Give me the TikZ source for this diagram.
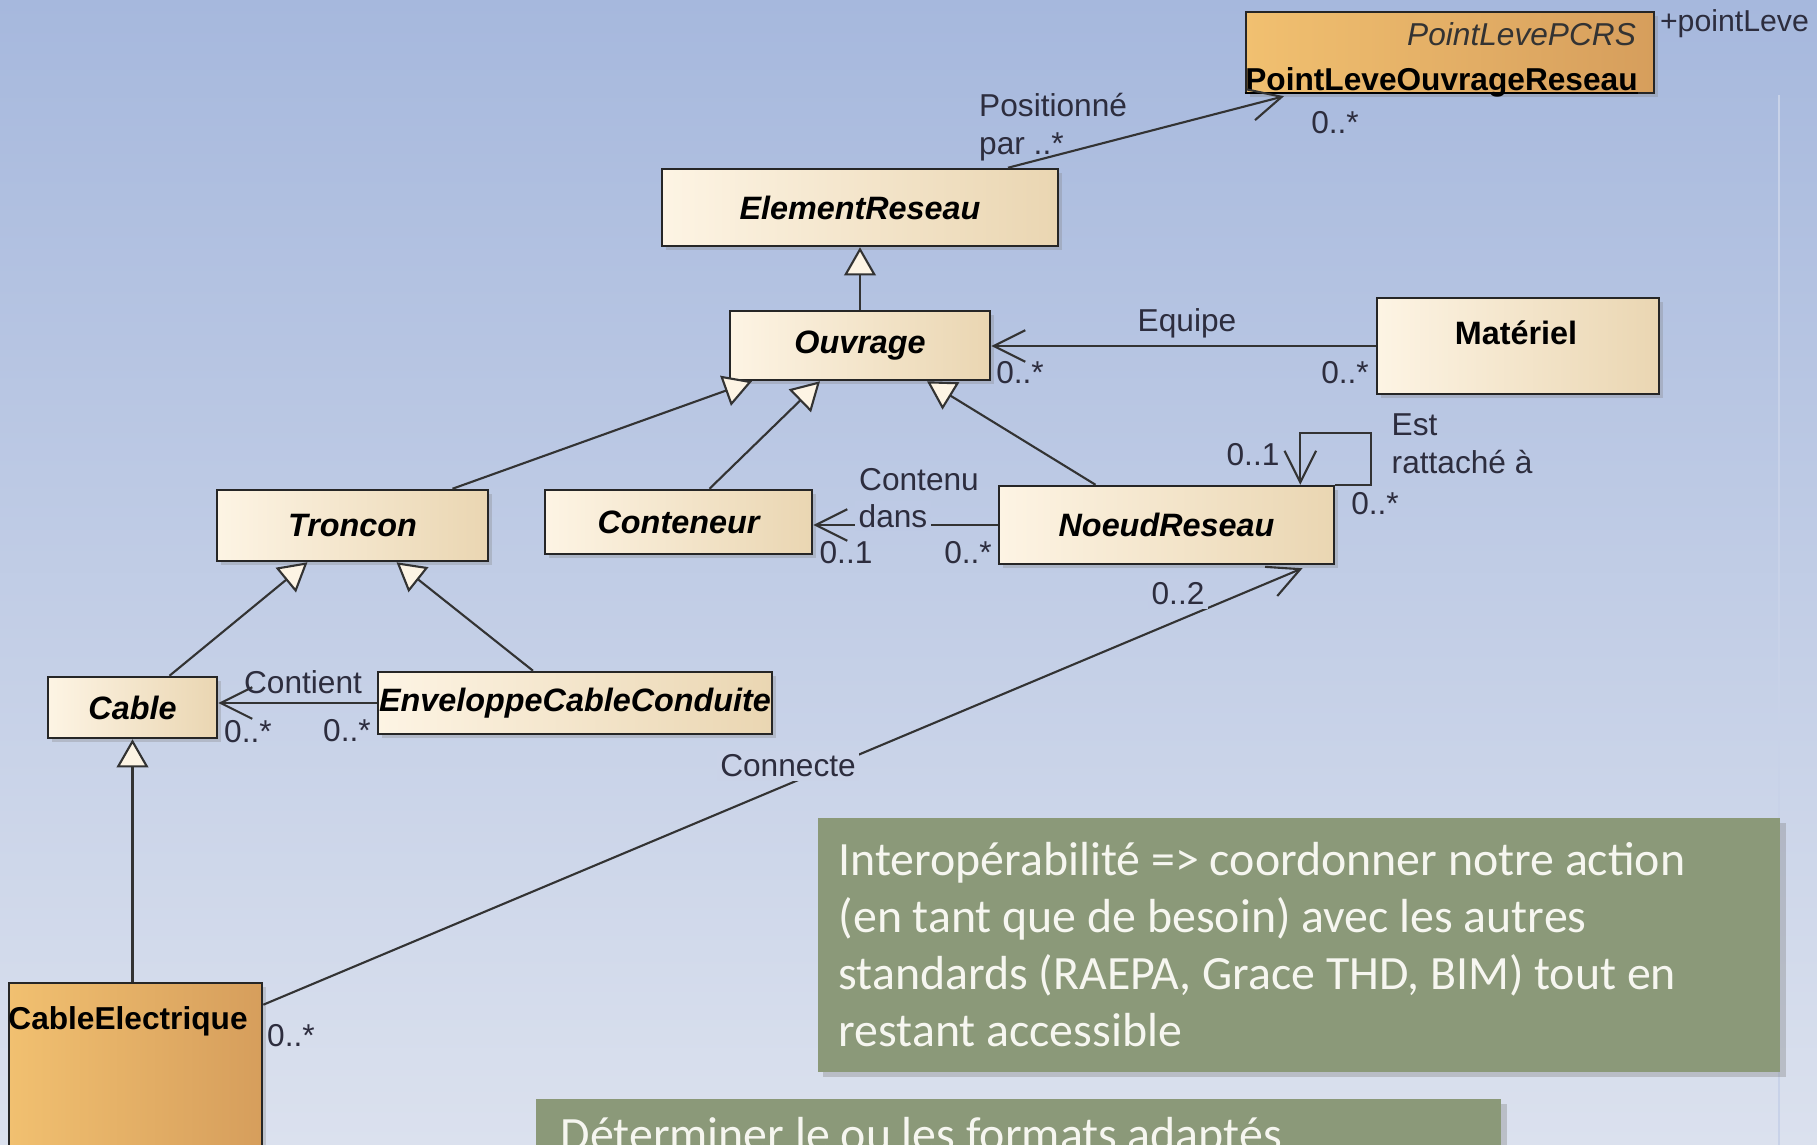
\documentclass[tikz,border=0pt]{standalone}
\usepackage{fontspec}
\setmainfont{Liberation Sans}
\newfontfamily\notefont{Carlito}
\usetikzlibrary{arrows.meta,calc,shadows,positioning}

\definecolor{bgtop}{RGB}{166,184,221}
\definecolor{bgbot}{RGB}{219,225,238}
\definecolor{bgline}{RGB}{200,210,232}
\definecolor{clsleft}{RGB}{253,244,228}
\definecolor{clsright}{RGB}{234,214,178}
\definecolor{orleft}{RGB}{241,192,112}
\definecolor{orright}{RGB}{214,158,92}
\definecolor{notegreen}{RGB}{139,153,121}
\definecolor{notetext}{RGB}{246,246,240}
\definecolor{labelgray}{RGB}{45,45,62}

\begin{document}
\begin{tikzpicture}[x=0.01cm,y=-0.01cm,
	every node/.style={font=\fontsize{9}{10.8}\selectfont,text=labelgray},
	cls/.style={draw=black!85,line width=0.7pt,left color=clsleft,right color=clsright,inner sep=0pt,
		font=\fontsize{9.2}{11}\selectfont\bfseries\itshape,text=black,
		drop shadow={shadow xshift=1.2pt,shadow yshift=-1.2pt,opacity=0.3}},
	clsor/.style={cls,left color=orleft,right color=orright},
	note/.style={fill=notegreen,inner sep=0pt,drop shadow={shadow xshift=1.5pt,shadow yshift=-1.5pt,opacity=0.35}},
	notetext/.style={font=\notefont\fontsize{13.6}{16.2}\selectfont,text=notetext,align=left,inner sep=0pt},
	gen/.style={draw=black!80,line width=0.6pt,-{Triangle[length=8pt,width=9pt,fill=clsleft]}},
	assoc/.style={draw=black!80,line width=0.6pt,-{Straight Barb[length=9pt,width=9pt]}},
	cut/.style={inner sep=1pt}]
		\useasboundingbox (0,0) rectangle (1817,1145);
		\clip (0,0) rectangle (1817,1145);
		\shade[top color=bgtop,bottom color=bgbot] (0,0) rectangle (1817,1145);
		\draw[bgline,line width=0.8pt] (1779,95) -- (1779,1145);

		% classes
		\node[clsor,minimum width=4.08cm,minimum height=0.81cm] (plevel) at (1450,52.5) {};
		\node[anchor=east,font=\fontsize{9}{10.8}\selectfont\itshape,text=black!80] (plevelpcrs) at ($(plevel.north east)+(-7,23)$) {PointLevePCRS};
		\node[anchor=base west,inner sep=0pt,font=\fontsize{9}{10.8}\selectfont\bfseries,text=black] (plevelname) at ($(plevel.south west)+(0,-4)$) {PointLeveOuvrageReseau};
		\draw[line width=0.7pt] ($(plevelname.base west)+(0,3)$) -- ($(plevelname.base east)+(0,3)$);
		\node[anchor=west,inner sep=0pt,font=\fontsize{8.6}{10.3}\selectfont] (pointleve) at ($(plevel.north east)+(4,13)$) {+pointLeve};

		\node[cls,minimum width=3.96cm,minimum height=0.77cm] (elem) at (860,207.5) {ElementReseau};
		\node[cls,minimum width=2.60cm,minimum height=0.69cm] (ouvrage) at (860,345.5) {Ouvrage};
		\node[cls,minimum width=2.82cm,minimum height=0.96cm] (materiel) at (1518,346) {};
		\node[font=\fontsize{9.2}{11}\selectfont\bfseries,text=black] (materielname) at ($(materiel.north)+(-2,36)$) {Matériel};
		\node[cls,minimum width=2.71cm,minimum height=0.71cm] (troncon) at (352.5,525.5) {Troncon};
		\node[cls,minimum width=2.67cm,minimum height=0.64cm] (conteneur) at (678.5,522) {Conteneur};
		\node[cls,minimum width=3.35cm,minimum height=0.78cm] (noeud) at (1166.5,525) {NoeudReseau};
		\node[cls,minimum width=1.69cm,minimum height=0.61cm] (cable) at (132.5,707.5) {Cable};
		\node[cls,minimum width=3.94cm,minimum height=0.62cm] (enveloppe) at (575,703) {EnveloppeCableConduite};
		\node[clsor,minimum width=2.53cm,minimum height=1.90cm] (cablee) at (135.5,1078) {};
		\node[anchor=west,inner sep=0pt,font=\fontsize{9}{10.8}\selectfont\bfseries,text=black] (cableename) at ($(cablee.north west)+(0,40)$) {CableElectrique};

		% generalisations
		\draw[gen] (ouvrage.north) -- (elem.south);
		\draw[gen] ($(troncon.north)+(100,0)$) -- ($(ouvrage.south)+(-108,0)$);
		\draw[gen] ($(conteneur.north)+(31,0)$) -- ($(ouvrage.south)+(-40,0)$);
		\draw[gen] ($(noeud.north)+(-71,0)$) -- ($(ouvrage.south)+(67,0)$);
		\draw[gen] ($(cable.north)+(37,0)$) -- ($(troncon.south)+(-45,0)$);
		\draw[gen] ($(enveloppe.north)+(-42,0)$) -- ($(troncon.south)+(44,0)$);
		\draw[gen] (cablee.north -| cable.south) -- (cable.south);

		% associations
		\draw[assoc] ($(elem.north)+(148,0)$) -- ($(plevel.south)+(-166,2)$);
		\node[anchor=north west,align=left,cut] (posit) at (975,89) {Positionné\\par ..*};
		\node (m1) at (1335,123) {0..*};

		\draw[assoc] (materiel.west) -- (materiel.west -| ouvrage.east);
		\node (equipe) at (1187,323) {Equipe};
		\node (m2) at (1020,373) {0..*};
		\node (m3) at (1345,373) {0..*};

		\draw[assoc] (noeud.west) -- (noeud.west -| conteneur.east);
		\node (contenu) at (919,480) {Contenu};
		\node[cut,fill=bgbot!45!bgtop] (dans) at (893,516) {dans};
		\node (m4) at (846,553) {0..1};
		\node (m5) at (968,553) {0..*};

		\draw[assoc] (noeud.north east) -- ++(36,0) -- ++(0,-52) -| ($(noeud.north east)+(-35,0)$);
		\node (m6) at (1253,455) {0..1};
		\node[anchor=west,align=left,inner sep=0pt] (rattache) at (1391,444) {Est\\rattaché à};
		\node (m7) at (1375,504) {0..*};

		\draw[assoc] (enveloppe.west) -- (enveloppe.west -| cable.east);
		\node (contient) at (303,682) {Contient};
		\node (m8) at (248,732) {0..*};
		\node (m9) at (347,731) {0..*};

		\draw[assoc] ($(cablee.north east)+(0,23)$) -- ($(noeud.south)+(136,3)$);
		\node[cut,fill=bgbot!67!bgtop] (connecte) at (788,766) {Connecte};
		\node[cut,fill=bgbot!52!bgtop] (m10) at (1178,594) {0..2};
		\node (m11) at (291,1036) {0..*};

		% notes
		\node[note,minimum width=9.62cm,minimum height=2.54cm] (note1) at (1299,945) {};
		\node[notetext,anchor=base west] (note1text) at (838,1046) {Interopérabilité => coordonner notre action\\(en tant que de besoin) avec les autres\\standards (RAEPA, Grace THD, BIM) tout en\\restant accessible};
		\node[note,minimum width=9.65cm,minimum height=0.8cm,anchor=north west] (note2) at (535,1098) {};
		\node[notetext,anchor=base west] (note2text) at (560,1150) {Déterminer le ou les formats adaptés};
\end{tikzpicture}
\end{document}
